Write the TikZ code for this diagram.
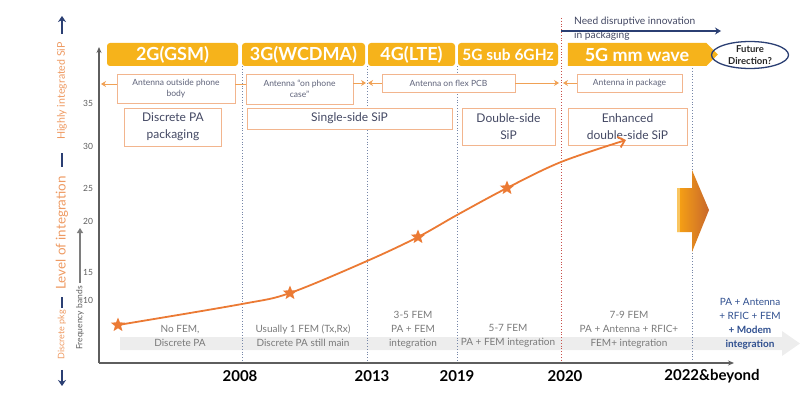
\documentclass[tikz,border=0pt]{standalone}
\usepackage{fontspec}
\setmainfont{Lato}
\usetikzlibrary{arrows.meta,shapes.geometric,shapes.symbols}
\definecolor{hdr}{HTML}{F6B31B}
\definecolor{boxo}{HTML}{F2B58E}
\definecolor{arro}{HTML}{F0A155}
\definecolor{crv}{HTML}{EB7A34}
\definecolor{txtd}{HTML}{434863}
\definecolor{txtg}{HTML}{7A7A7A}
\definecolor{navy}{HTML}{2B3F73}
\definecolor{bluedot}{HTML}{7686A8}
\definecolor{reddot}{HTML}{C8504A}
\definecolor{lbl}{HTML}{EE9A62}
\definecolor{band}{HTML}{EDEDED}
\definecolor{axisc}{HTML}{5E5E5E}
\definecolor{fin}{HTML}{2F4F8F}
\begin{document}
\begin{tikzpicture}[x=1pt,y=-1pt,
  hdrbox/.style={fill=hdr, text=white, font=\fontsize{18}{20}\selectfont\bfseries, rounded corners=3pt, minimum height=23pt, inner sep=0pt},
  rowbox/.style={draw=boxo, fill=white, line width=0.8pt, font=\fontsize{8.5}{10.5}\selectfont, text=txtd!85, align=center, inner sep=1pt},
  techbox/.style={draw=boxo, fill=white, line width=0.8pt, font=\fontsize{12}{17}\selectfont, text=txtd, align=center, inner sep=1pt},
  spanarrow/.style={arro, line width=1pt, -{Stealth[length=5pt,width=6pt]}},
  era/.style={bluedot, dotted, line width=0.8pt},
  starnode/.style={star, star points=5, star point ratio=2.3, fill=crv, minimum size=15pt, inner sep=0pt},
  bottomtxt/.style={font=\fontsize{10}{14}\selectfont, text=txtg, align=center},
  yearlbl/.style={font=\fontsize{15}{17}\selectfont\bfseries, text=black},
  ticklbl/.style={font=\fontsize{8.5}{9}\selectfont, text=axisc},
  sidelbl/.style={rotate=90, text=lbl, inner sep=0pt}
]
\useasboundingbox (0,0) rectangle (800,396);

% bottom band
\fill[band] (120,337) -- (782,337) -- (782,331) -- (800,343.5) -- (782,356) -- (782,350) -- (120,350) -- cycle;

% era lines
\coordinate (e08t) at (242,66);  \coordinate (e08b) at (242,363);
\coordinate (e13t) at (367,66);  \coordinate (e13b) at (367,363);
\coordinate (e19t) at (457,66);  \coordinate (e19b) at (457,363);
\coordinate (e22t) at (692,68);  \coordinate (e22b) at (692,363);
\coordinate (e20t) at (561,18);  \coordinate (e20b) at (561,363);
\draw[era] (e08t) -- (e08b);
\draw[era] (e13t) -- (e13b);
\draw[era] (e19t) -- (e19b);
\draw[era] (e22t) -- (e22b);
\draw[reddot, dotted, line width=0.8pt] (e20t) -- (e20b);

% axes
\coordinate (org) at (99,363);
\coordinate (ytop) at (99,47);
\coordinate (xend) at (734,363);
\draw[axisc, line width=1.3pt, -{Stealth[length=6pt,width=5pt]}] (org) -- (ytop);
\draw[axisc, line width=1.3pt, -{Stealth[length=6pt,width=5pt]}] (org) -- (xend);

% ticks
\node[ticklbl] (k35) at (88,103) {35};
\node[ticklbl] (k30) at (88,146) {30};
\node[ticklbl] (k25) at (88,188) {25};
\node[ticklbl] (k20) at (88,221) {20};
\node[ticklbl] (k15) at (88,272) {15};
\node[ticklbl] (k10) at (88,300) {10};

% left labels
\node[sidelbl, font=\fontsize{10.6}{12}\selectfont] (lhi) at (62,91) {Highly integrated SiP};
\node[sidelbl, font=\fontsize{13.4}{15}\selectfont] (llev) at (62,233) {Level of integration};
\node[sidelbl, font=\fontsize{9}{10}\selectfont] (ldis) at (62,335) {Discrete pkg};
\draw[navy, line width=2pt] (62,153) -- (62,167);
\draw[navy, line width=2pt] (62,297) -- (62,308);
\coordinate (upt) at (62,16);
\coordinate (dnt) at (62,386);
\draw[navy, line width=2pt, -{Stealth[length=6pt,width=8pt]}] (lhi.east) ++(0,-8) -- (upt);
\draw[navy, line width=2pt, -{Stealth[length=6pt,width=8pt]}] (ldis.west) ++(0,10) -- (dnt);
\node[rotate=90, font=\fontsize{8.5}{10}\selectfont, text=axisc, inner sep=0pt] (fb) at (80,318) {Frequency bands};
\coordinate (fbt) at (80,228);
\draw[axisc!80, line width=1.8pt, -{Triangle[length=5pt,width=6pt]}] (fb.east) ++(0,-3) -- (fbt);

% header bars
\node[hdrbox, minimum width=131pt] (h2g) at (172.5,54.5) {2G(GSM)};
\node[hdrbox, minimum width=123pt] (h3g) at (303.5,54.5) {3G(WCDMA)};
\node[hdrbox, minimum width=87pt] (h4g) at (411.5,54.5) {4G(LTE)};
\node[hdrbox, minimum width=100pt, font=\fontsize{15.5}{18}\selectfont\bfseries] (h5s) at (508,54.5) {5G sub 6GHz};
\node[fill=hdr, text=white, font=\fontsize{18}{20}\selectfont\bfseries, signal, signal to=east, signal pointer angle=90, minimum width=150pt, minimum height=23pt, inner sep=0pt] (h5m) at (637,54.5) {5G mm wave};

% future direction
\node[ellipse, draw=navy, line width=1.3pt, align=center, font=\fontsize{9.5}{11.5}\selectfont\bfseries, text=black!85, minimum width=77pt, minimum height=27pt, inner xsep=0pt, inner ysep=-3pt] (fd) at (750,55) {Future\\Direction?};

% need disruptive innovation
\node[anchor=north west, align=left, font=\fontsize{10.2}{14}\selectfont, text=txtd, inner sep=0pt] (ndi) at (574,16.5) {Need disruptive innovation\\in packaging};
\coordinate (nda) at (561,31);
\coordinate (ndb) at (721,31);
\draw[navy, line width=1.2pt, -{Stealth[length=6pt,width=7pt]}] (nda) -- (ndb);

% row 2 antenna boxes
\node[rowbox, minimum width=118pt, minimum height=29pt] (a2g) at (176,88.5) {Antenna outside phone\\body};
\node[rowbox, minimum width=107pt, minimum height=30pt] (a3g) at (299.5,89) {Antenna “on phone\\case”};
\node[rowbox, minimum width=133pt, minimum height=18pt] (a4g) at (448.5,83) {Antenna on flex PCB};
\node[rowbox, minimum width=105pt, minimum height=18pt] (a5g) at (629.5,83) {Antenna in package};
\coordinate (ax0) at (101,84);
\coordinate (ax08) at (242,84);
\coordinate (ax13a) at (366,83);
\coordinate (ax13b) at (368,83);
\coordinate (ax20a) at (559,83);
\coordinate (ax20b) at (563,83);
\draw[spanarrow] (a2g.west |- ax0) -- (ax0);
\draw[arro, line width=1pt] (a2g.east |- ax08) -- (a3g.west |- ax08);
\draw[spanarrow] (a3g.east |- ax13a) -- (ax13a);
\draw[spanarrow] (a4g.west) -- (ax13b);
\draw[spanarrow] (a4g.east) -- (ax20a);
\draw[spanarrow] (a5g.west) -- (ax20b);

% row 3 technology boxes
\node[techbox, minimum width=97pt, minimum height=38pt] (dpa) at (173,127) {Discrete PA\\packaging};
\node[techbox, minimum width=205pt, minimum height=21pt] (ssip) at (349.5,118.5) {Single-side SiP};
\node[techbox, minimum width=93pt, minimum height=37pt] (dsip) at (508.5,126.5) {Double-side\\SiP};
\node[techbox, minimum width=119pt, minimum height=37pt] (esip) at (627.5,126.5) {Enhanced\\double-side SiP};

% big orange arrow
\shade[left color=hdr!70!orange, right color=crv!85!black] (677,188) -- (692,188) -- (692,170) -- (709,210) -- (692,252) -- (692,232) -- (677,232) -- cycle;
\fill[hdr!55!white, opacity=0.7] (677,188) rectangle (680,232);

% curve
\coordinate (p1) at (118,325);
\coordinate (c1) at (242,304);
\coordinate (p2) at (290,293);
\coordinate (c2) at (367,261);
\coordinate (p3) at (418,237);
\coordinate (c3) at (457,215);
\coordinate (p4) at (507,188);
\coordinate (c4) at (561,162);
\coordinate (cend) at (626,140);
\draw[crv, line width=1.8pt, -{Straight Barb[length=6pt,width=11pt]}] plot[smooth, tension=0.55] coordinates {(p1) (c1) (p2) (c2) (p3) (c3) (p4) (c4) (cend)};
\node[starnode] (s1) at (p1) {};
\node[starnode] (s2) at (p2) {};
\node[starnode] (s3) at (p3) {};
\node[starnode] (s4) at (p4) {};

% bottom texts
\node[bottomtxt] (t1) at (180,336) {No FEM,\\Discrete PA};
\node[bottomtxt] (t2) at (303,336) {Usually 1 FEM (Tx,Rx)\\Discrete PA still main};
\node[bottomtxt] (t3) at (413,330) {3-5 FEM\\PA + FEM\\integration};
\node[bottomtxt] (t4) at (508,336) {5-7 FEM\\PA + FEM integration};
\node[bottomtxt] (t5) at (629,330) {7-9 FEM\\PA + Antenna + RFIC+\\FEM+ integration};
\node[bottomtxt, text=fin] (t6) at (750,324) {PA + Antenna\\+ RFIC + FEM\\\textbf{+ Modem}\\\textbf{integration}};

% years
\node[yearlbl] (y08) at (240,376) {2008};
\node[yearlbl] (y13) at (372,376) {2013};
\node[yearlbl] (y19) at (457,376) {2019};
\node[yearlbl] (y20) at (565,376) {2020};
\node[yearlbl] (y22) at (712,376) {2022\&beyond};
\end{tikzpicture}
\end{document}
